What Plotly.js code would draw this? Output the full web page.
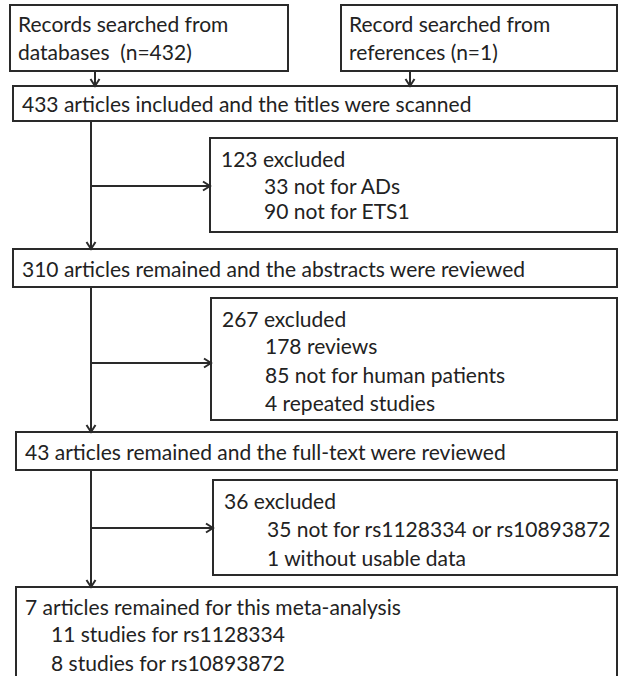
<!DOCTYPE html>
<html><head><meta charset="utf-8">
<script src="https://cdn.plot.ly/plotly-3.0.1.min.js"></script>
<style>html,body{margin:0;padding:0;background:#fff}</style>
</head><body><div id="chart" style="width:619px;height:676px"></div>
<script>
// ---- content (data) ----
const sourceDb = ["Records searched from", "databases  (n=432)"];
const sourceRef = ["Record searched from", "references (n=1)"];
const stageTexts = [
  ["433 articles included and the titles were scanned"],
  ["310 articles remained and the abstracts were reviewed"],
  ["43 articles remained and the full-text were reviewed"],
  ["7 articles remained for this meta-analysis", "11 studies for rs1128334", "8 studies for rs10893872"]
];
const excludedTexts = [
  ["123 excluded", "33 not for ADs", "90 not for ETS1"],
  ["267 excluded", "178 reviews", "85 not for human patients", "4 repeated studies"],
  ["36 excluded", "35 not for rs1128334 or rs10893872", "1 without usable data"]
];

// ---- layout geometry (pixels) ----
const font = {family: "Lato, 'Open Sans', sans-serif", size: 21, color: "#222"};
const lineCol = "#2a2a2a", lw = 2;
const topBoxes = [{x0:10,x1:288,y0:5,y1:71,lines:sourceDb,ax:95},{x0:341,x1:617,y0:5,y1:71,lines:sourceRef,ax:410}];
const stageBoxes = [{x0:13,y0:86,y1:121},{x0:13,y0:249,y1:287},{x0:16,y0:432,y1:470},{x0:16,y0:587,y1:700}];
const exclBoxes = [{x0:210,y0:138,y1:232,arrowY:186,ty:[158,185,210]},
                   {x0:211,y0:298,y1:420,arrowY:363,ty:[318,345,374,402]},
                   {x0:213,y0:480,y1:575,arrowY:528,ty:[500,528,557]}];
const mainX = 91, rightX = 617;
const stageTY = [[103],[268],[451],[606,633,662]];

const shapes = [], annotations = [];
function rect(x0,y0,x1,y1){shapes.push({type:'rect',xref:'x',yref:'y',x0,y0,x1,y1,line:{color:lineCol,width:lw},fillcolor:'rgba(0,0,0,0)'});}
function line(x0,y0,x1,y1){shapes.push({type:'line',xref:'x',yref:'y',x0,y0,x1,y1,line:{color:lineCol,width:lw}});}
function headDown(x,y){shapes.push({type:'path',xref:'x',yref:'y',path:`M ${x-4.5},${y-7} L ${x},${y} L ${x+4.5},${y-7}`,line:{color:lineCol,width:lw}});}
function headRight(x,y){shapes.push({type:'path',xref:'x',yref:'y',path:`M ${x-7},${y-4.5} L ${x},${y} L ${x-7},${y+4.5}`,line:{color:lineCol,width:lw}});}
function text(x,y,t){annotations.push({xref:'x',yref:'y',x,y,text:t,showarrow:false,xanchor:'left',yanchor:'middle',font});}

// top boxes
topBoxes.forEach(b=>{
  rect(b.x0,b.y0,b.x1,b.y1);
  b.lines.forEach((t,i)=>text(b.x0+6,b.y0+18+i*28,t));
  line(b.ax,b.y1,b.ax,stageBoxes[0].y0); headDown(b.ax,stageBoxes[0].y0);
});
// stage boxes
stageBoxes.forEach((b,k)=>{
  rect(b.x0,b.y0,rightX,b.y1);
  stageTexts[k].forEach((t,i)=>text(i===0?b.x0+7:b.x0+33,stageTY[k][i],t));
});
// excluded boxes + arrows
exclBoxes.forEach((b,k)=>{
  rect(b.x0,b.y0,rightX,b.y1);
  excludedTexts[k].forEach((t,i)=>text(i===0?b.x0+9:b.x0+52,b.ty[i],t));
  const yTop = stageBoxes[k].y1, yBot = stageBoxes[k+1].y0;
  line(mainX,yTop,mainX,yBot); headDown(mainX,yBot);
  line(mainX,b.arrowY,b.x0,b.arrowY); headRight(b.x0,b.arrowY);
});

const layout = {
  width:619,height:676,margin:{l:0,r:0,t:0,b:0},
  paper_bgcolor:'#fff',plot_bgcolor:'#fff',showlegend:false,
  xaxis:{range:[0,619],visible:false,fixedrange:true},
  yaxis:{range:[676,0],visible:false,fixedrange:true},
  shapes,annotations
};
Plotly.newPlot('chart',[],layout,{staticPlot:true,displayModeBar:false});
</script></body></html>
